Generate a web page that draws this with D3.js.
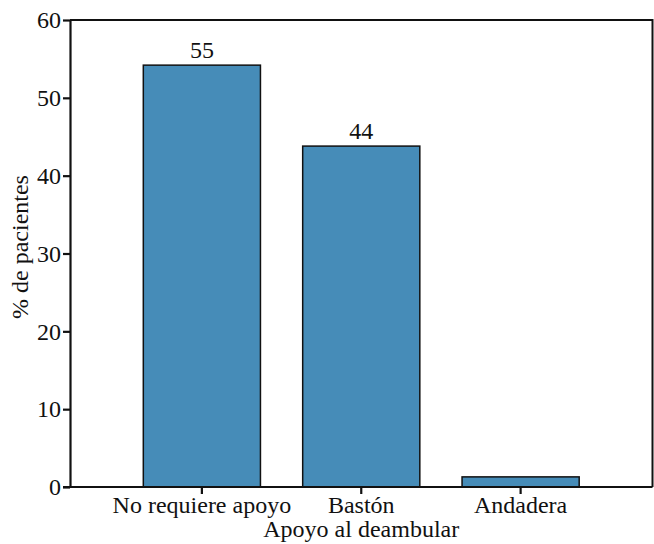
<!DOCTYPE html>
<html>
<head>
<meta charset="UTF-8" />
<title>Apoyo al deambular</title>
<script src="https://cdn.jsdelivr.net/npm/d3@7"></script>
<style>
    body { margin: 0; background: #fff; }
</style>
</head>
<body>
<div id="chart"></div>
<script>
    var categories = ["No requiere apoyo", "Bastón", "Andadera"];
    var values = [54.2, 43.8, 1.3];
    var valueLabels = ["55", "44", ""];
    var yTicks = [0, 10, 20, 30, 40, 50, 60];

    var w = 654, h = 544;
    var margin = {top: 20, right: 1.5, bottom: 57, left: 70};
    var serif = "'Liberation Serif'";
    var fontSize = 24;
    var ink = "#111";

    var svg = d3.select("#chart").append("svg")
        .attr("width", w)
        .attr("height", h)
        .attr("font-family", "Liberation Serif")
        .style("font-family", serif);

    var x = d3.scaleBand()
        .domain(categories)
        .range([margin.left, w - margin.right])
        .paddingInner(0.265)
        .paddingOuter(0.46);

    var y = d3.scaleLinear()
        .domain([0, 60])
        .range([h - margin.bottom, margin.top]);

    // frame top + right
    svg.append("path")
        .attr("d", "M" + margin.left + "," + y(60) + "H" + (w - margin.right) + "V" + y(0))
        .attr("fill", "none")
        .attr("stroke", ink)
        .attr("stroke-width", 2);

    // bars
    svg.selectAll("rect.bar")
        .data(values)
        .enter().append("rect")
        .attr("class", "bar")
        .attr("x", function(d, i) { return x(categories[i]); })
        .attr("y", function(d) { return y(d); })
        .attr("width", x.bandwidth())
        .attr("height", function(d) { return y(0) - y(d); })
        .attr("fill", "#468cb8")
        .attr("stroke", ink)
        .attr("stroke-width", 1.5);

    svg.selectAll("text.val")
        .data(values)
        .enter().append("text")
        .attr("class", "val")
        .attr("x", function(d, i) { return x(categories[i]) + x.bandwidth() / 2; })
        .attr("y", function(d) { return y(d) - 7.5; })
        .attr("text-anchor", "middle")
        .text(function(d, i) { return valueLabels[i]; });

    var yAxis = svg.append("g")
        .attr("class", "axis")
        .attr("transform", "translate(" + margin.left + ",0)")
        .call(d3.axisLeft(y).tickValues(yTicks).tickSize(7).tickSizeOuter(0).tickPadding(2));

    var xAxis = svg.append("g")
        .attr("class", "axis")
        .attr("transform", "translate(0," + y(0) + ")")
        .call(d3.axisBottom(x).tickSize(7).tickSizeOuter(0).tickPadding(2));
    xAxis.select(".domain").attr("d", "M" + (margin.left - 7) + ",0H" + (w - margin.right));

    svg.selectAll(".axis").attr("font-family", "Liberation Serif").attr("font-size", null);
    svg.selectAll(".axis path, .axis line")
        .attr("stroke", ink)
        .attr("stroke-width", 2.2);

    svg.append("text")
        .attr("x", (margin.left + w - margin.right) / 2)
        .attr("y", 537)
        .attr("text-anchor", "middle")
        .text("Apoyo al deambular");

    svg.append("text")
        .attr("transform", "translate(28,247) rotate(-90)")
        .attr("text-anchor", "middle")
        .text("% de pacientes");

    svg.selectAll("text")
        .attr("font-family", "Liberation Serif")
        .attr("font-size", fontSize)
        .attr("fill", ink)
        .style("font-family", serif)
        .style("font-size", fontSize + "px");
</script>
</body>
</html>
